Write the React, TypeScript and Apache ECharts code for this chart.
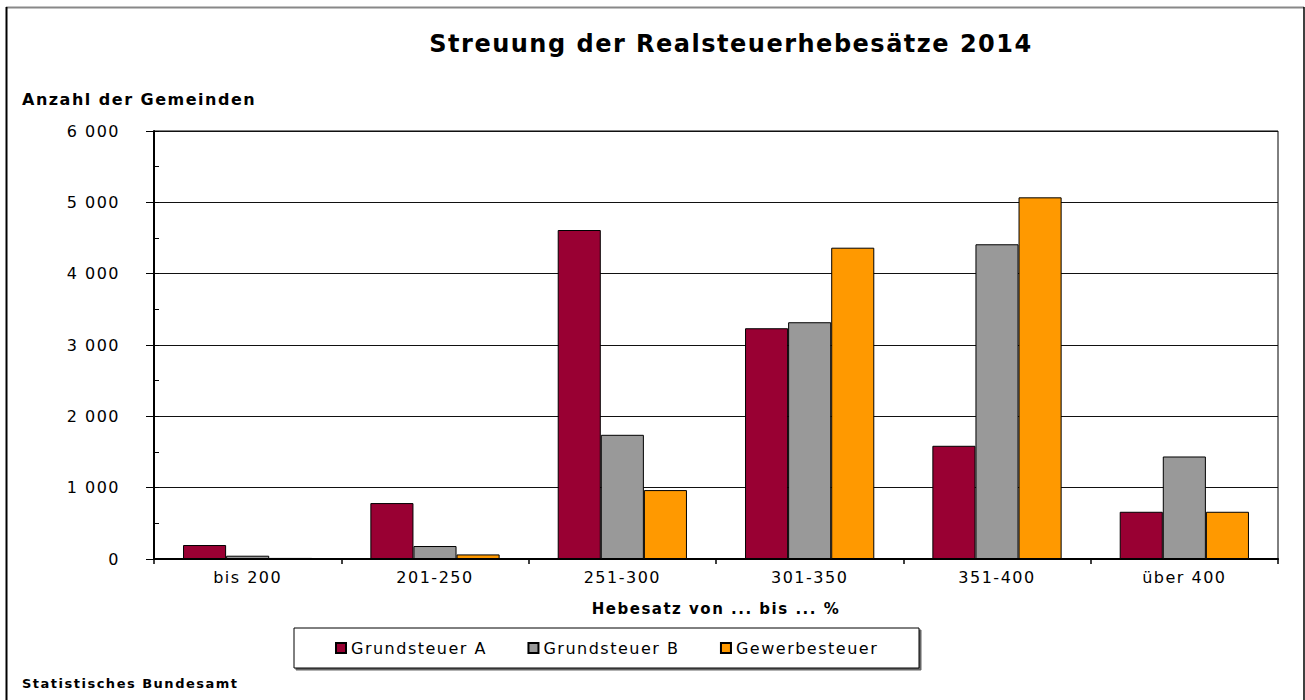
import React, { useEffect, useRef } from "react";
import * as echarts from "echarts";

const categories = ["bis 200", "201-250", "251-300", "301-350", "351-400", "über 400"];
const grundsteuerA = [196, 784, 4612, 3235, 1587, 662];
const grundsteuerB = [46, 182, 1741, 3319, 4412, 1437];
const gewerbesteuer = [15, 64, 966, 4364, 5070, 662];
const seriesNames = ["Grundsteuer A", "Grundsteuer B", "Gewerbesteuer"];
const yTicks = [0, 1000, 2000, 3000, 4000, 5000, 6000];

const FONT = "DejaVu Sans";

export default function App() {
  const ref = useRef<HTMLDivElement>(null);
  useEffect(() => {
    document.body.style.margin = "0";
    if (!ref.current) return;
    const chart = echarts.init(ref.current, null, { renderer: "svg" });
    const fmt = (v: number) => {
      const s = String(Math.round(v));
      return s.length > 3 ? s.slice(0, s.length - 3) + " " + s.slice(-3) : s;
    };
    const barStyle = (color: string) => ({ color, borderColor: "#000", borderWidth: 1 });
    chart.setOption({
      animation: false,
      backgroundColor: "#fff",
      textStyle: { fontFamily: FONT, color: "#000" },
      grid: {
        left: 154,
        right: 27,
        top: 131,
        bottom: 141,
        show: true,
        borderColor: "#000",
        borderWidth: 1,
        backgroundColor: "transparent",
      },
      graphic: [
        { type: "line", z: 0, shape: { x1: 6, y1: 7.5, x2: 1304, y2: 7.5 }, style: { stroke: "#888", lineWidth: 2 } },
        { type: "line", z: 0, shape: { x1: 6.5, y1: 7, x2: 6.5, y2: 700 }, style: { stroke: "#000", lineWidth: 2 } },
        { type: "line", z: 0, shape: { x1: 1304, y1: 7, x2: 1304, y2: 700 }, style: { stroke: "#000", lineWidth: 1.5 } },
        {
          type: "text",
          x: 731,
          y: 44,
          style: {
            text: "Streuung der Realsteuerhebesätze 2014",
            font: `bold 24px "${FONT}"`,
            fill: "#000",
            textAlign: "center",
            textVerticalAlign: "middle",
          },
        },
        {
          type: "text",
          x: 22,
          y: 99,
          style: {
            text: "Anzahl der Gemeinden",
            font: `bold 16px "${FONT}"`,
            fill: "#000",
            textAlign: "left",
            textVerticalAlign: "middle",
          },
        },
        {
          type: "text",
          x: 22,
          y: 683,
          style: {
            text: "Statistisches Bundesamt",
            font: `bold 13px "${FONT}"`,
            fill: "#000",
            textAlign: "left",
            textVerticalAlign: "middle",
          },
        },
        {
          type: "rect",
          z: 1,
          shape: { x: 294, y: 628, width: 625, height: 40 },
          style: {
            fill: "#fff",
            stroke: "#000",
            lineWidth: 1,
            shadowColor: "rgba(0,0,0,0.6)",
            shadowOffsetX: 2,
            shadowOffsetY: 2,
            shadowBlur: 0,
          },
        },
      ],
      legend: {
        data: seriesNames,
        left: 335,
        top: 640,
        padding: 0,
        itemGap: 60,
        itemWidth: 10,
        itemHeight: 10,
        icon: "rect",
        textStyle: { fontFamily: FONT, fontSize: 16, color: "#000", lineHeight: 16 },
        z: 5,
      },
      xAxis: {
        type: "category",
        data: categories,
        name: "Hebesatz von ... bis ... %",
        nameLocation: "middle",
        nameGap: 42,
        nameTextStyle: { fontFamily: FONT, fontSize: 15, fontWeight: "bold", color: "#000" },
        axisLine: { lineStyle: { color: "#000", width: 2 } },
        axisTick: { show: true, length: 5, lineStyle: { color: "#000", width: 1.5 } },
        axisLabel: { fontFamily: FONT, fontSize: 16, color: "#000", margin: 10 },
        splitLine: { show: false },
      },
      yAxis: [
        {
          type: "value",
          min: yTicks[0],
          max: yTicks[yTicks.length - 1],
          interval: 1000,
          axisLine: { show: true, lineStyle: { color: "#000", width: 2 } },
          axisTick: { show: true, length: 8, lineStyle: { color: "#000", width: 1 } },
          axisLabel: { fontFamily: FONT, fontSize: 16, color: "#000", margin: 34, formatter: fmt },
          splitLine: { show: true, lineStyle: { color: "#111", width: 1 } },
        },
        {
          type: "value",
          min: 0,
          max: 6000,
          interval: 500,
          position: "left",
          axisLine: { show: false },
          axisTick: { show: true, inside: true, length: 5, lineStyle: { color: "#000", width: 1 } },
          axisLabel: { show: false },
          splitLine: { show: false },
        },
      ],
      series: [
        { name: seriesNames[0], type: "bar", data: grundsteuerA, barGap: "0%", barCategoryGap: "31%", itemStyle: barStyle("#990033") },
        { name: seriesNames[1], type: "bar", data: grundsteuerB, barGap: "0%", barCategoryGap: "31%", itemStyle: barStyle("#999999") },
        { name: seriesNames[2], type: "bar", data: gewerbesteuer, barGap: "0%", barCategoryGap: "31%", itemStyle: barStyle("#FF9900") },
      ],
    });
    return () => chart.dispose();
  }, []);
  return <div ref={ref} style={{ width: 1305, height: 700, letterSpacing: "1.5px" }} />;
}
